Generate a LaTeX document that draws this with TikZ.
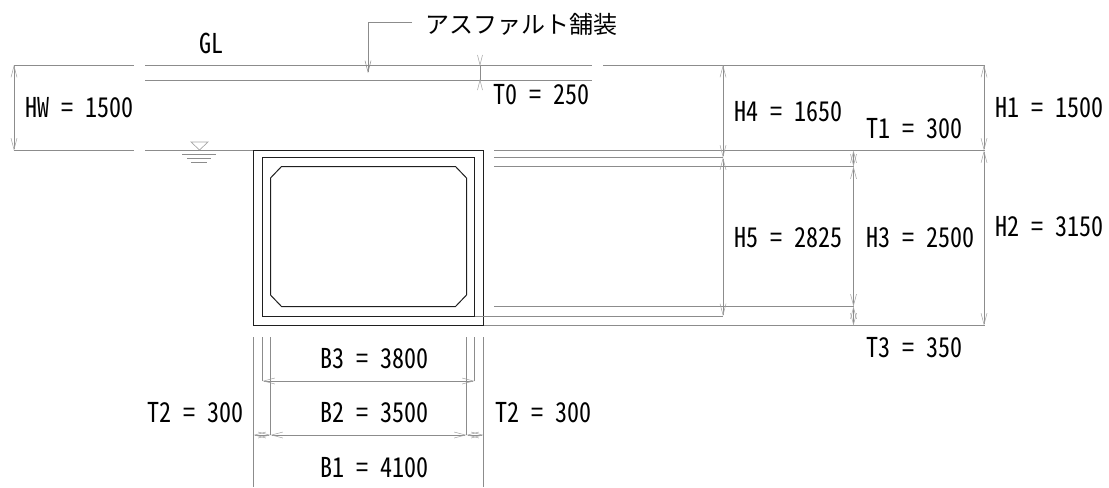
\documentclass[tikz,border=0pt]{standalone}
\usepackage{fontspec}
\usetikzlibrary{arrows.meta}
\newfontfamily\cadfont[RawFeature=+hwid,FakeStretch=0.88]{Noto Sans CJK JP}
\newfontfamily\jpfont{Noto Sans CJK JP}
\definecolor{lineg}{gray}{0.55}
\definecolor{tipg}{gray}{0.65}
\definecolor{boxk}{gray}{0.12}
\tikzset{
  lbl/.style={anchor=base west,inner sep=0pt,outer sep=0pt,font=\cadfont\fontsize{20.5pt}{20.5pt}\selectfont,text=black},
  jplbl/.style={anchor=base west,inner sep=0pt,outer sep=0pt,font=\jpfont\fontsize{18pt}{18pt}\selectfont,text=black},
  thin line/.style={draw=lineg,line width=0.6pt},
  boxline/.style={draw=boxk,line width=0.75pt},
  tipb/.tip={Straight Barb[length=8.5pt,width=4.5pt,line width=0.4pt,color=tipg]},
  dimline/.style={draw=lineg,line width=0.6pt,tipb-tipb},
}
\begin{document}
\begin{tikzpicture}[x=0.75pt,y=-0.75pt]
\useasboundingbox (0,0) rectangle (1109,487);
% ground and pavement
\draw[thin line] (14,65) -- (134,65);
\draw[thin line] (145,65) -- (592,65);
\draw[thin line] (603,65) -- (985,65);
\draw[thin line] (145,80) -- (592,80);
\draw[thin line] (14,150.5) -- (134,150.5);
\draw[thin line] (145,150.5) -- (253,150.5);
% box culvert
\draw[boxline] (253.5,150.5) rectangle (483.5,325.5);
\draw[boxline] (262.5,157.5) rectangle (474.5,316);
\draw[boxline] (281.5,166.5) -- (455.5,166.5) -- (466.5,178) -- (466.5,295) -- (455.5,306.5) -- (281.5,306.5) -- (270.5,295) -- (270.5,178) -- cycle;
% right extension lines
\draw[thin line] (494,150.5) -- (985,150.5);
\draw[thin line] (494,157.5) -- (723,157.5);
\draw[thin line] (494,166.5) -- (853.5,166.5);
\draw[thin line] (494,306.5) -- (853.5,306.5);
\draw[thin line] (474.5,316) -- (723,316);
\draw[thin line] (484,325.5) -- (985,325.5);
% water level
\draw[draw=tipg,line width=0.5pt] (191,142) -- (208,142) -- (199.5,150) -- cycle;
\draw[thin line] (182,154.5) -- (216,154.5);
\draw[thin line] (187,158) -- (211,158);
\draw[thin line] (191,162.5) -- (207,162.5);
% leader
\draw[thin line,-{Straight Barb[length=8.5pt,width=4.5pt,line width=0.4pt,color=lineg]}] (412,22) -- (368,22) -- (368,73);
% vertical dimensions
\draw[dimline] (14,65) -- (14,150.5);
\draw[thin line] (480,65) -- (480,80);
\draw[draw=tipg,line width=0.4pt] (477.5,55) -- (480,65) -- (482.5,55);
\draw[draw=tipg,line width=0.4pt] (477.5,90) -- (480,80) -- (482.5,90);
\draw[dimline] (723,65) -- (723,157.5);
\draw[dimline] (723,157.5) -- (723,316);
\draw[dimline] (853.5,150.5) -- (853.5,166.5);
\draw[dimline] (853.5,166.5) -- (853.5,306.5);
\draw[dimline] (853.5,306.5) -- (853.5,325.5);
\draw[dimline] (984,65) -- (984,150.5);
\draw[dimline] (984,150.5) -- (984,325.5);
% bottom extension lines
\draw[thin line] (253.5,337) -- (253.5,487);
\draw[thin line] (483.5,337) -- (483.5,487);
\draw[thin line] (262.5,337) -- (262.5,381);
\draw[thin line] (474.5,337) -- (474.5,381);
\draw[thin line] (270.5,337) -- (270.5,435);
\draw[thin line] (466.5,337) -- (466.5,435);
% horizontal dimensions
\draw[dimline] (262.5,381) -- (474.5,381);
\draw[dimline] (270.5,435) -- (466.5,435);
\draw[dimline] (253.5,435) -- (270.5,435);
\draw[dimline] (466.5,435) -- (483.5,435);
% labels
\node[lbl] (gl) at (199,53) {GL};
\node[jplbl] (asp) at (425,33) {アスファルト舗装};
\node[lbl] (hw) at (25,117) {HW = 1500};
\node[lbl] (t0) at (493,104) {T0 = 250};
\node[lbl] (h4) at (734,121) {H4 = 1650};
\node[lbl] (t1) at (866,138) {T1 = 300};
\node[lbl] (h1) at (995,117) {H1 = 1500};
\node[lbl] (h5) at (734,247) {H5 = 2825};
\node[lbl] (h3) at (866,247) {H3 = 2500};
\node[lbl] (h2) at (995,236) {H2 = 3150};
\node[lbl] (t3) at (866,357) {T3 = 350};
\node[lbl] (b3) at (320,368) {B3 = 3800};
\node[lbl] (b2) at (320,422) {B2 = 3500};
\node[lbl] (b1) at (320,477) {B1 = 4100};
\node[lbl] (t2l) at (147,422) {T2 = 300};
\node[lbl] (t2r) at (495,422) {T2 = 300};
\end{tikzpicture}
\end{document}
